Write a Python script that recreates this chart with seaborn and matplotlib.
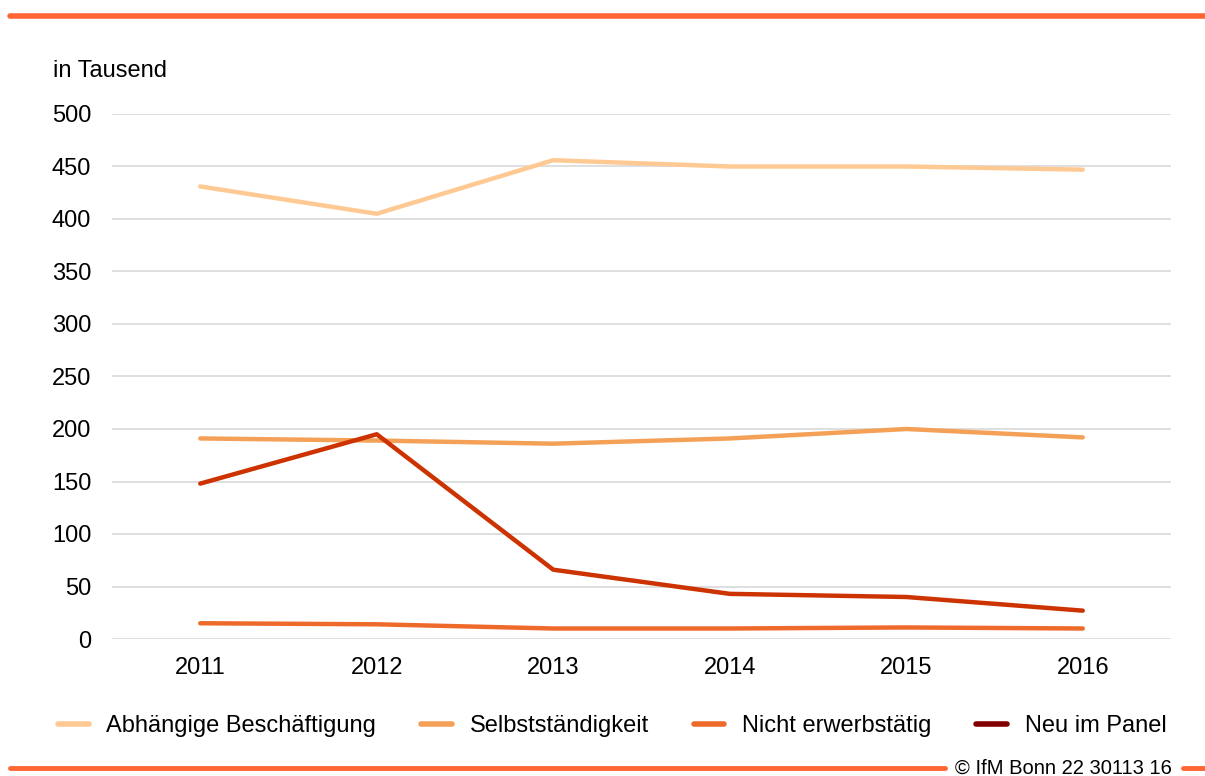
import matplotlib
matplotlib.use("Agg")
import matplotlib.pyplot as plt
from matplotlib.lines import Line2D
import seaborn as sns
import pandas as pd

years = ["2011", "2012", "2013", "2014", "2015", "2016"]
abhaengig = [431, 405, 456, 450, 450, 447]
selbst = [191, 189, 186, 191, 200, 192]
neu_panel = [148, 195, 66, 43, 40, 27]
nicht_erw = [15, 14, 10, 10, 11, 10]

series_names = ["Abhängige Beschäftigung", "Selbstständigkeit", "Nicht erwerbstätig", "Neu im Panel"]
line_colors = ["#ffc993", "#f5a057", "#ee6a2b", "#cc3300"]
legend_colors = ["#ffc993", "#f5a057", "#ee6a2b", "#800000"]

rows = []
for name, vals in zip(series_names, [abhaengig, selbst, nicht_erw, neu_panel]):
    for y, v in zip(years, vals):
        rows.append({"Jahr": y, "Wert": v, "Serie": name})
df = pd.DataFrame(rows)

sns.set_theme(style="white")
plt.rcParams['font.family'] = ['Liberation Sans', 'DejaVu Sans']
plt.rcParams['text.color'] = 'black'

FS = 17

fig = plt.figure(figsize=(12.05, 7.76), dpi=100)
ax = fig.add_axes([112/1205, 1-639/776, (1171-112)/1205, (639-114)/776])

sns.lineplot(data=df, x="Jahr", y="Wert", hue="Serie", hue_order=series_names,
             palette=dict(zip(series_names, line_colors)), lw=3.2, ax=ax,
             legend=False, sort=False)
for ln in ax.lines:
    ln.set_solid_capstyle("round")
    ln.set_solid_joinstyle("round")

ax.set_xlim(-0.5, 5.5)
ax.set_ylim(0, 500)
ax.set_yticks(range(0, 501, 50))
ax.yaxis.grid(True, color="#d9d9d9", lw=1.2)
ax.set_axisbelow(True)
for s in ax.spines.values():
    s.set_visible(False)
ax.set_xlabel("")
ax.set_ylabel("")
ax.tick_params(axis="y", length=0, pad=15, labelsize=FS, labelcolor="black")
ax.tick_params(axis="x", length=0, pad=13, labelsize=FS, labelcolor="black")

fig.text(53/1205, 1-71/776, "in Tausend", fontsize=FS, ha="left", va="center")

handles = [Line2D([0], [0], color=c, lw=4, solid_capstyle="round") for c in legend_colors]
fig.legend(handles, series_names, loc="center", bbox_to_anchor=(0.508, 1-726/776),
           ncol=4, frameon=False, fontsize=FS, handlelength=1.3, handletextpad=0.75,
           columnspacing=1.9)

orange = "#ff6633"
fig.add_artist(Line2D([10/1205, 1], [1-16/776, 1-16/776], color=orange, lw=4))
fig.add_artist(Line2D([10/1205, 945/1205], [1-768/776, 1-768/776], color=orange, lw=3.5))
fig.add_artist(Line2D([1183/1205, 1], [1-768/776, 1-768/776], color=orange, lw=3.5))
fig.text(1063/1205, 1-768/776, "© IfM Bonn 22 30113 16", fontsize=14.5, ha="center", va="center")

fig.savefig("out.png", dpi=100)
